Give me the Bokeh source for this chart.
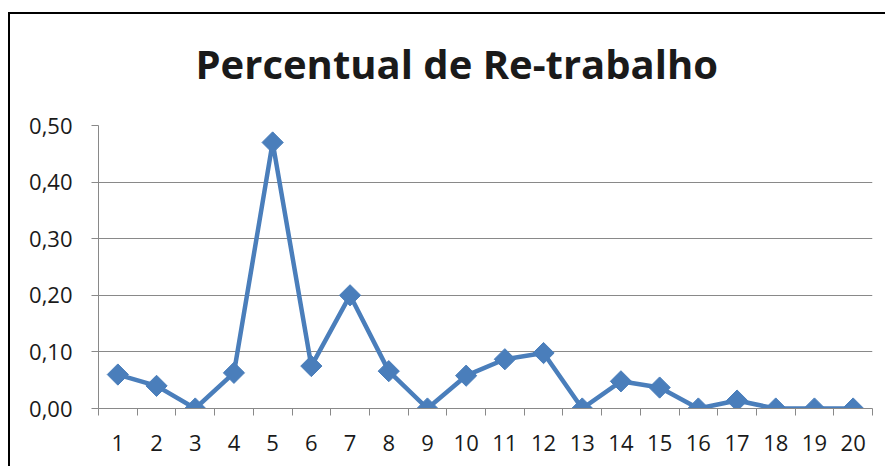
from bokeh.plotting import figure
from bokeh.embed import file_html
from bokeh.resources import INLINE
from bokeh.models import FixedTicker, CustomJSTickFormatter, Range1d, Title

categories = [str(i) for i in range(1, 21)]
values = [0.06, 0.04, 0.0, 0.063, 0.47, 0.075, 0.20, 0.066, 0.0, 0.058,
          0.087, 0.098, 0.0, 0.048, 0.037, 0.0, 0.014, 0.0, 0.0, 0.0]
y_ticks = [0.0, 0.1, 0.2, 0.3, 0.4, 0.5]
title_text = "Percentual de Re-trabalho"

xs = list(range(1, len(categories) + 1))
boundaries = [x - 0.5 for x in xs] + [xs[-1] + 0.5]

p = figure(width=877, height=454, output_backend="svg", toolbar_location=None,
           x_range=Range1d(0.5, len(categories) + 0.5), y_range=Range1d(0, 0.5),
           min_border_left=88, min_border_right=15, min_border_top=111, min_border_bottom=60)
# outer chart border (only top and left edges fall inside the window)
p.styles = {"margin-left": "8px", "margin-top": "12px",
            "border-left": "2px solid #000", "border-top": "2px solid #000"}

# spacer between plot area and title, then the title itself
p.add_layout(Title(text=" ", text_font_size="1px", standoff=30), "above")
p.add_layout(Title(text=title_text, align="left", offset=97, vertical_align="top",
                   text_font="Open Sans", text_font_style="bold", text_font_size="40px",
                   text_color="#1a1a1a", standoff=0), "above")

p.outline_line_color = None
p.xgrid.grid_line_color = None
p.ygrid.grid_line_color = "#898989"
p.ygrid.grid_line_width = 1.2

p.xaxis.ticker = FixedTicker(ticks=xs, minor_ticks=boundaries)
p.xaxis.major_label_overrides = {x: c for x, c in zip(xs, categories)}
p.xaxis.major_tick_out = 0
p.xaxis.major_tick_in = 0
p.xaxis.minor_tick_out = 7
p.xaxis.minor_tick_in = 0
p.xaxis.minor_tick_line_color = "#898989"
p.xaxis.axis_line_color = "#898989"
p.xaxis.major_label_standoff = 19

p.yaxis.ticker = FixedTicker(ticks=y_ticks, minor_ticks=[])
p.yaxis.formatter = CustomJSTickFormatter(code="return tick.toFixed(2).replace('.', ',');")
p.yaxis.major_tick_out = 7
p.yaxis.major_tick_in = 0
p.yaxis.major_tick_line_color = "#898989"
p.yaxis.axis_line_color = "#898989"
p.yaxis.major_label_standoff = 19

for ax in (p.xaxis, p.yaxis):
    ax.major_label_text_font = "Open Sans"
    ax.major_label_text_font_size = "22px"
    ax.major_label_text_color = "#1a1a1a"

color = "#4a7ebb"
p.line(xs, values, line_color=color, line_width=4.5)
p.scatter(xs, values, marker="square", angle=0.785398, size=15, fill_color=color, line_color=color)

open("out.html", "w").write(file_html(p, INLINE))
